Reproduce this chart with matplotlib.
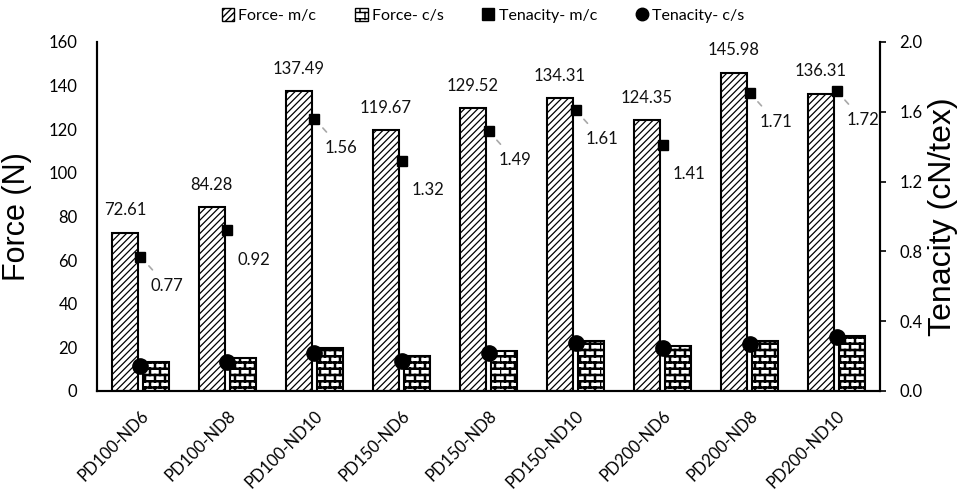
import warnings
warnings.filterwarnings('ignore')
import numpy as np
import matplotlib
matplotlib.use('Agg')
import matplotlib.pyplot as plt
import matplotlib.hatch as mhatch
from matplotlib.lines import Line2D
from matplotlib.patches import Patch
from matplotlib.path import Path

# ---------------- data ----------------
categories = ['PD100-ND6', 'PD100-ND8', 'PD100-ND10', 'PD150-ND6', 'PD150-ND8',
              'PD150-ND10', 'PD200-ND6', 'PD200-ND8', 'PD200-ND10']
force_mc = [72.61, 84.28, 137.49, 119.67, 129.52, 134.31, 124.35, 145.98, 136.31]
force_cs = [13.3, 15.1, 19.7, 16.0, 18.3, 23.0, 20.6, 23.0, 25.2]
ten_mc = [0.77, 0.92, 1.56, 1.32, 1.49, 1.61, 1.41, 1.71, 1.72]
ten_cs = [0.143, 0.166, 0.218, 0.17, 0.22, 0.275, 0.246, 0.27, 0.31]
leader = [True, False, True, False, True, True, False, True, True]
force_ticks = [0, 20, 40, 60, 80, 100, 120, 140, 160]
ten_ticks = [0.0, 0.4, 0.8, 1.2, 1.6, 2.0]


# ---------------- custom brick hatch ----------------
class BrickHatch(mhatch.HatchPatternBase):
    ROWS = 16
    COLS = 10

    def __init__(self, hatch, density):
        if 'b' in hatch:
            self.num_vertices = (self.ROWS + self.ROWS * self.COLS) * 2
        else:
            self.num_vertices = 0

    def set_vertices_and_codes(self, vertices, codes):
        n, m = self.ROWS, self.COLS
        k = 0
        for i in range(n):
            y = i / n
            vertices[k] = (0, y); vertices[k + 1] = (1, y)
            codes[k] = Path.MOVETO; codes[k + 1] = Path.LINETO
            k += 2
        for i in range(n):
            y0, y1 = i / n, (i + 1) / n
            off = 0.5 if i % 2 else 0.0
            for j in range(m):
                x = (j + off) / m
                vertices[k] = (x, y0); vertices[k + 1] = (x, y1)
                codes[k] = Path.MOVETO; codes[k + 1] = Path.LINETO
                k += 2


if BrickHatch not in mhatch._hatch_types:
    mhatch._hatch_types.append(BrickHatch)

plt.rcParams['font.family'] = ['Lato', 'DejaVu Sans']
plt.rcParams['hatch.color'] = 'black'

fig = plt.figure(figsize=(9.66, 4.91), dpi=100)
ax = fig.add_axes([0.1004, 0.2037, 0.8106, 0.7108])
ax2 = ax.twinx()

x = np.arange(len(categories))
w = 0.30
off = 0.18


def set_hlw(bars, lw):
    for b in bars:
        if hasattr(b, 'set_hatch_linewidth'):
            b.set_hatch_linewidth(lw)


with plt.rc_context({'hatch.linewidth': 0.9}):
    b1 = ax.bar(x - off, force_mc, w, facecolor='white', edgecolor='black',
                hatch='/////', linewidth=1.5, zorder=2)
set_hlw(b1, 0.9)
with plt.rc_context({'hatch.linewidth': 1.8}):
    b2 = ax.bar(x + off, force_cs, w, facecolor='white', edgecolor='black',
                hatch='b', linewidth=1.5, zorder=2)
set_hlw(b2, 1.8)

for xi, v in zip(x, force_mc):
    ax.annotate(f'{v:.2f}', (xi - off, v), xytext=(0, 16), textcoords='offset points',
                ha='center', va='center', fontsize=12, color='#111111')

ax2.plot(x, ten_mc, linestyle='none', marker='s', ms=7.5, color='black', zorder=5)
ax2.plot(x, ten_cs, linestyle='none', marker='o', ms=11, color='black', zorder=5)

for xi, t, ld in zip(x, ten_mc, leader):
    ap = dict(arrowstyle='-', color='#a8a8a8', lw=1.2, shrinkA=5, shrinkB=9) if ld else None
    ax2.annotate(f'{t:.2f}', (xi, t), xytext=(19, -21), textcoords='offset points',
                 ha='center', va='center', fontsize=12, color='#111111', arrowprops=ap)

ax.set_xlim(-0.5, len(categories) - 0.5)
ax.set_ylim(0, 160)
ax2.set_ylim(0, 2.0)
ax.set_yticks(force_ticks)
ax.set_yticklabels([str(t) for t in force_ticks])
ax2.set_yticks(ten_ticks)
ax2.set_yticklabels([f'{t:.1f}' for t in ten_ticks])
ax.set_xticks(x)
ax.set_xticklabels(categories, rotation=45, ha='right', va='top', rotation_mode='anchor')

ax.tick_params(axis='y', length=0, pad=14, labelsize=12)
ax.tick_params(axis='x', length=0, pad=12, labelsize=12)
ax2.tick_params(axis='y', direction='out', length=4.5, width=1.2, pad=9.5, labelsize=12)

for a in (ax, ax2):
    a.spines['top'].set_visible(False)
    for s in ('left', 'right', 'bottom'):
        a.spines[s].set_linewidth(1.5)

ax.set_ylabel('Force (N)', fontsize=22, family=['Liberation Sans', 'DejaVu Sans'], labelpad=12)
ax2.set_ylabel('Tenacity (cN/tex)', fontsize=23, family=['Liberation Sans', 'DejaVu Sans'], labelpad=4)

with plt.rc_context({'hatch.linewidth': 0.9}):
    h1 = Patch(facecolor='white', edgecolor='black', hatch='/////', linewidth=1.0)
with plt.rc_context({'hatch.linewidth': 1.8}):
    h2 = Patch(facecolor='white', edgecolor='black', hatch='b', linewidth=1.0)
h3 = Line2D([], [], linestyle='none', marker='s', ms=9, color='black')
h4 = Line2D([], [], linestyle='none', marker='o', ms=9, color='black')
fig.legend([h1, h2, h3, h4], ['Force- m/c', 'Force- c/s', 'Tenacity- m/c', 'Tenacity- c/s'],
           loc='center', bbox_to_anchor=(0.5, 0.968), ncol=4, frameon=False,
           fontsize=11.5, handlelength=0.8, handleheight=0.8, handletextpad=0.25,
           columnspacing=2.4)

fig.savefig('out.png', dpi=100)
